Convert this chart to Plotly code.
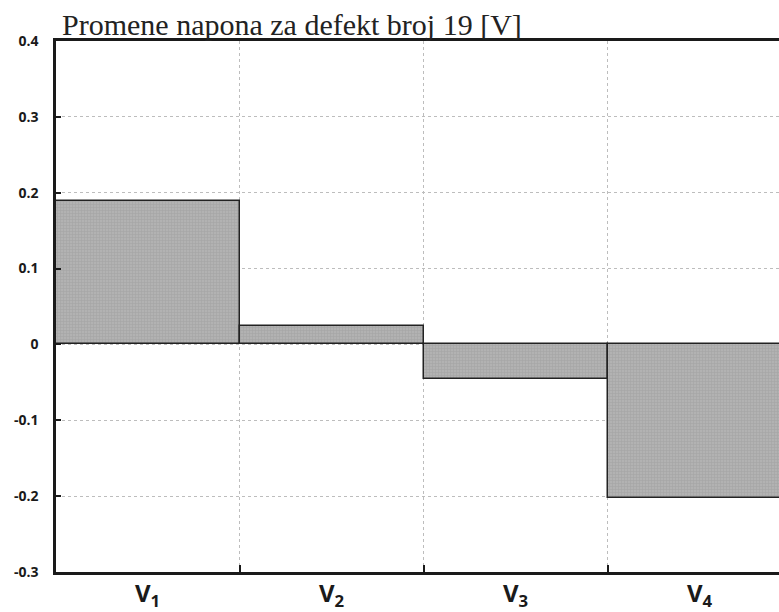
import plotly.graph_objects as go

categories = ["V<sub>1</sub>", "V<sub>2</sub>", "V<sub>3</sub>", "V<sub>4</sub>"]
positions = [1, 2, 3, 4]
values = [0.189, 0.024, -0.045, -0.202]
y_ticks = [-0.3, -0.2, -0.1, 0, 0.1, 0.2, 0.3, 0.4]
y_ticktext = ["-0.3", "-0.2", "-0.1", "0", "0.1", "0.2", "0.3", "0.4"]
boundaries = [1.5, 2.5, 3.5]
title = "Promene napona za defekt broj 19 [V]"

fig = go.Figure()
fig.add_trace(go.Bar(
    x=positions, y=values, width=1,
    marker=dict(color="#a8a8a8", line=dict(color="#222222", width=1.5),
                pattern=dict(shape="+", size=3, fgcolor="#989898", bgcolor="#b2b2b2", solidity=0.4)),
    showlegend=False,
))

for p, c in zip(positions, categories):
    fig.add_annotation(x=p, xref="x", y=0, yref="paper", yanchor="top", yshift=-2,
                       text=c, showarrow=False,
                       font=dict(family="Open Sans", size=24, color="#1a1a1a", weight="bold"))

fig.update_layout(
    width=779, height=612,
    margin=dict(l=56, r=0, t=41, b=40, autoexpand=False),
    plot_bgcolor="white", paper_bgcolor="white",
    bargap=0,
    title=dict(text=title, x=62/779, xanchor="left", y=1 - 35/612, yanchor="bottom",
               font=dict(family="Liberation Serif", size=30, color="#222222")),
    xaxis=dict(
        range=[0.5, 4.43], tickvals=positions, ticktext=["", "", "", ""],
        automargin=False,
        showgrid=False, zeroline=False,
        showline=True, linecolor="#1a1a1a", linewidth=2.5, mirror=True,
        ticks="",
        minor=dict(tickvals=boundaries, showgrid=True, gridcolor="#bdbdbd", griddash="dot",
                   gridwidth=1, ticks="inside", ticklen=7, tickcolor="#1a1a1a", tickwidth=1.5),
    ),
    yaxis=dict(
        range=[-0.3, 0.4], tickvals=y_ticks, ticktext=y_ticktext,
        automargin=False,
        showgrid=True, gridcolor="#bdbdbd", griddash="dot", gridwidth=1,
        zeroline=False,
        showline=True, linecolor="#1a1a1a", linewidth=2.5,
        ticks="inside", ticklen=5, tickcolor="#1a1a1a", tickwidth=1.5,
        ticklabelstandoff=12,
        tickfont=dict(family="Open Sans", size=14, color="#1a1a1a", weight="bold"),
    ),
)

fig.write_html("out.html")
